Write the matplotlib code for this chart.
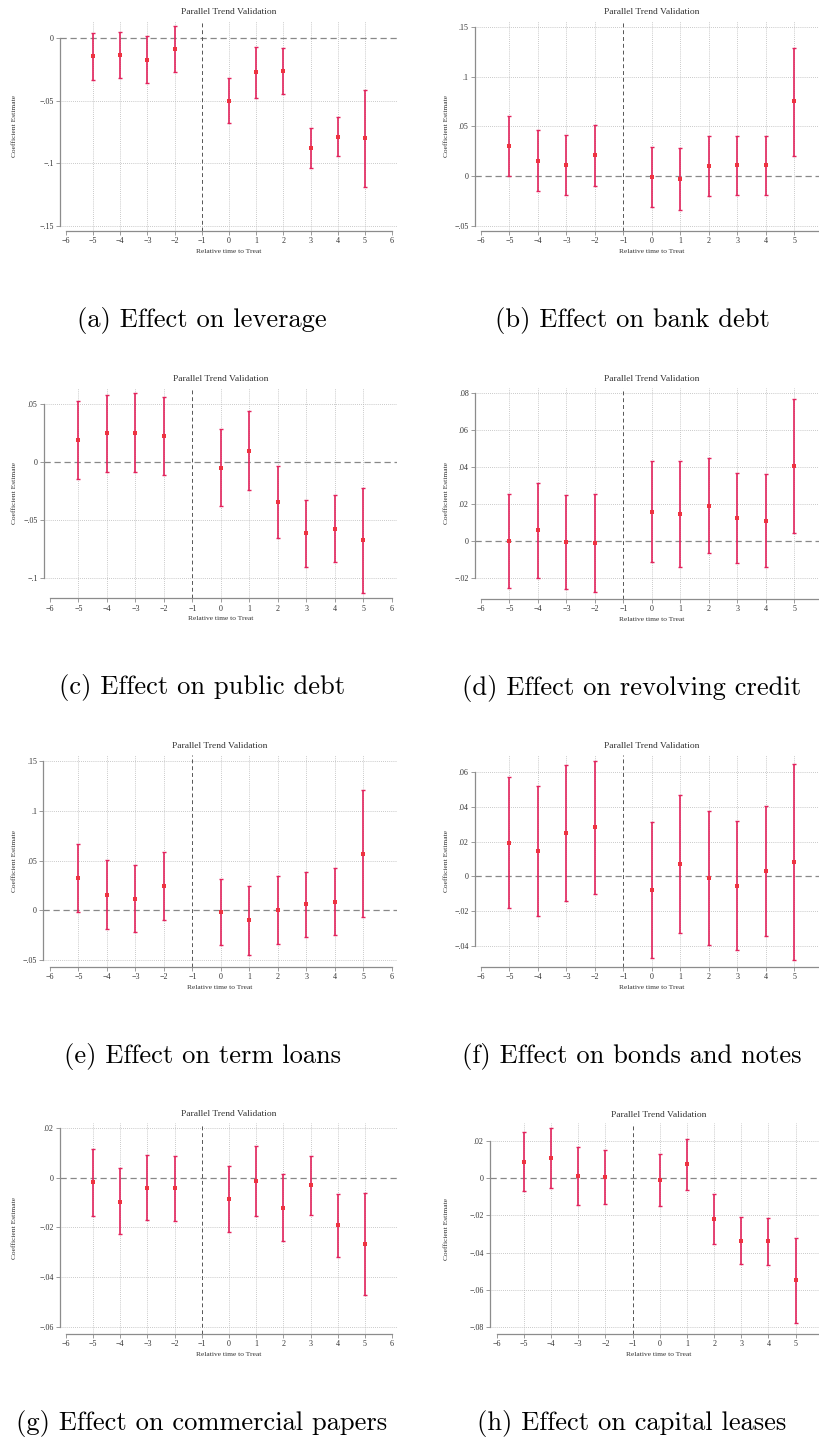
import matplotlib
matplotlib.use('Agg')
import matplotlib.pyplot as plt
from matplotlib.ticker import FuncFormatter
import numpy as np

W, H = 819, 1439

# relative time to treatment (period -1 is the omitted reference)
periods = [-5, -4, -3, -2, 0, 1, 2, 3, 4, 5]

leverage_coef = [-0.0147, -0.0133, -0.0173, -0.0088, -0.0500, -0.0272, -0.0261, -0.0879, -0.0786, -0.0800]
leverage_lo = [-0.0336, -0.0320, -0.0360, -0.0272, -0.0680, -0.0477, -0.0448, -0.1040, -0.0943, -0.1186]
leverage_hi = [0.0043, 0.0048, 0.0016, 0.0096, -0.0320, -0.0072, -0.0077, -0.0714, -0.0632, -0.0413]

bank_coef = [0.0298, 0.0157, 0.0110, 0.0211, -0.0010, -0.0030, 0.0104, 0.0110, 0.0110, 0.0750]
bank_lo = [0.0000, -0.0151, -0.0188, -0.0094, -0.0308, -0.0338, -0.0198, -0.0188, -0.0188, 0.0204]
bank_hi = [0.0603, 0.0466, 0.0412, 0.0509, 0.0291, 0.0281, 0.0405, 0.0405, 0.0405, 0.1286]

public_coef = [0.0193, 0.0250, 0.0253, 0.0227, -0.0049, 0.0101, -0.0345, -0.0612, -0.0572, -0.0672]
public_lo = [-0.0141, -0.0083, -0.0086, -0.0109, -0.0379, -0.0241, -0.0655, -0.0902, -0.0862, -0.1124]
public_hi = [0.0526, 0.0583, 0.0595, 0.0560, 0.0284, 0.0443, -0.0034, -0.0328, -0.0284, -0.0221]

revolving_coef = [0.0000, 0.0056, -0.0005, -0.0013, 0.0157, 0.0144, 0.0191, 0.0123, 0.0107, 0.0405]
revolving_lo = [-0.0255, -0.0202, -0.0262, -0.0280, -0.0117, -0.0144, -0.0067, -0.0119, -0.0144, 0.0040]
revolving_hi = [0.0253, 0.0312, 0.0247, 0.0253, 0.0433, 0.0433, 0.0450, 0.0370, 0.0361, 0.0767]

term_coef = [0.0322, 0.0157, 0.0117, 0.0241, -0.0013, -0.0100, 0.0000, 0.0060, 0.0084, 0.0566]
term_lo = [-0.0017, -0.0188, -0.0221, -0.0100, -0.0352, -0.0452, -0.0342, -0.0271, -0.0251, -0.0070]
term_hi = [0.0663, 0.0503, 0.0456, 0.0583, 0.0318, 0.0248, 0.0342, 0.0389, 0.0422, 0.1206]

bonds_coef = [0.0194, 0.0146, 0.0250, 0.0283, -0.0077, 0.0073, -0.0012, -0.0054, 0.0033, 0.0081]
bonds_lo = [-0.0183, -0.0227, -0.0140, -0.0100, -0.0469, -0.0325, -0.0394, -0.0427, -0.0344, -0.0485]
bonds_hi = [0.0573, 0.0519, 0.0640, 0.0663, 0.0313, 0.0469, 0.0375, 0.0321, 0.0408, 0.0648]

paper_coef = [-0.0019, -0.0096, -0.0040, -0.0043, -0.0087, -0.0013, -0.0122, -0.0031, -0.0191, -0.0266]
paper_lo = [-0.0152, -0.0228, -0.0171, -0.0175, -0.0219, -0.0155, -0.0256, -0.0151, -0.0319, -0.0471]
paper_hi = [0.0116, 0.0037, 0.0089, 0.0087, 0.0045, 0.0127, 0.0013, 0.0087, -0.0064, -0.0060]

lease_coef = [0.0088, 0.0109, 0.0011, 0.0005, -0.0013, 0.0073, -0.0220, -0.0336, -0.0339, -0.0548]
lease_lo = [-0.0071, -0.0052, -0.0145, -0.0141, -0.0150, -0.0066, -0.0352, -0.0463, -0.0468, -0.0775]
lease_hi = [0.0246, 0.0268, 0.0166, 0.0152, 0.0127, 0.0211, -0.0086, -0.0211, -0.0213, -0.0321]

x_ticks = list(range(-6, 7))

captions = ['(a) Effect on leverage', '(b) Effect on bank debt',
            '(c) Effect on public debt', '(d) Effect on revolving credit',
            '(e) Effect on term loans', '(f) Effect on bonds and notes',
            '(g) Effect on commercial papers', '(h) Effect on capital leases']

y_ticks = [
    [-0.15, -0.1, -0.05, 0],
    [-0.05, 0, 0.05, 0.1, 0.15],
    [-0.1, -0.05, 0, 0.05],
    [-0.02, 0, 0.02, 0.04, 0.06, 0.08],
    [-0.05, 0, 0.05, 0.1, 0.15],
    [-0.04, -0.02, 0, 0.02, 0.04, 0.06],
    [-0.06, -0.04, -0.02, 0, 0.02],
    [-0.08, -0.06, -0.04, -0.02, 0, 0.02],
]

series = [
    (leverage_coef, leverage_lo, leverage_hi),
    (bank_coef, bank_lo, bank_hi),
    (public_coef, public_lo, public_hi),
    (revolving_coef, revolving_lo, revolving_hi),
    (term_coef, term_lo, term_hi),
    (bonds_coef, bonds_lo, bonds_hi),
    (paper_coef, paper_lo, paper_hi),
    (lease_coef, lease_lo, lease_hi),
]

# plot-region boxes in pixels (left, top, right, bottom) and axis limits
boxes = [
    (60, 21, 398, 231), (475, 20.7, 828, 231),
    (44, 387.7, 397, 598.3), (475, 387.7, 828, 599),
    (43.3, 755, 397, 966.7), (475, 755, 828, 966.7),
    (60, 1122.7, 398, 1334), (490, 1123.3, 828, 1334),
]
xlims = [(-6.22, 6.22), (-6.21, 6.18), (-6.21, 6.18), (-6.21, 6.18),
         (-6.23, 6.18), (-6.21, 6.18), (-6.22, 6.22), (-6.25, 6.19)]
ylims = [(-0.154, 0.0136), (-0.055, 0.156), (-0.1172, 0.0643), (-0.0316, 0.083),
         (-0.0567, 0.156), (-0.0521, 0.070), (-0.0627, 0.022), (-0.0836, 0.0293)]

serif = ['Liberation Serif', 'DejaVu Serif']
txt = '#333333'
bar_col = '#E2235C'
pt_col = '#EE3340'


def stata_fmt(v, pos=None):
    if abs(v) < 1e-12:
        return '0'
    s = f'{abs(v):g}'.lstrip('0')
    return ('\u2212' if v < 0 else '') + s


fig = plt.figure(figsize=(W / 100, H / 100), dpi=100)

for i in range(8):
    l, t, r, b = boxes[i]
    ax = fig.add_axes([l / W, 1 - b / H, (r - l) / W, (b - t) / H])
    ax.set_xlim(*xlims[i])
    ax.set_ylim(*ylims[i])
    ax.patch.set_alpha(0)

    yt = y_ticks[i]
    for v in yt:
        if v != 0:
            ax.axhline(v, color='#b8b8b8', lw=0.6, ls=(0, (1, 1.5)), zorder=0)
    for v in periods:
        ax.axvline(v, color='#b8b8b8', lw=0.6, ls=(0, (1, 1.5)), zorder=0)
    ax.axhline(0, color='#888888', lw=0.9, ls=(0, (5, 3)), zorder=1)
    ax.axvline(-1, color='#555555', lw=0.7, ls=(0, (4, 3)), zorder=1)

    coef, lo, hi = series[i]
    coef = np.array(coef)
    err = [coef - np.array(lo), np.array(hi) - coef]
    ax.errorbar(periods, coef, yerr=err, fmt='none', ecolor=bar_col,
                elinewidth=1.2, capsize=1.6, capthick=1.0, zorder=3)
    ax.plot(periods, coef, 's', color=pt_col, ms=2.6, mew=0, zorder=4)

    for s in ['top', 'right']:
        ax.spines[s].set_visible(False)
    for s in ['left', 'bottom']:
        ax.spines[s].set_color('#8c8c8c')
        ax.spines[s].set_linewidth(0.9)
    ax.spines['bottom'].set_bounds(-6, 6)
    ax.spines['left'].set_bounds(min(yt), max(yt))

    # right-hand panels are clipped by the page edge, so the "6" label is not shown
    shown = x_ticks if i % 2 == 0 else x_ticks[:-1]
    ax.set_xticks(shown)
    ax.set_xticklabels([stata_fmt(v) for v in shown])
    ax.set_yticks(yt)
    ax.yaxis.set_major_formatter(FuncFormatter(stata_fmt))
    ax.tick_params(length=3, width=0.6, color='#8c8c8c', labelsize=5.8,
                   labelcolor=txt, pad=1.5)
    for lab in ax.get_xticklabels() + ax.get_yticklabels():
        lab.set_family(serif)

    cx = (l + r) / 2
    fig.text(cx / W, 1 - (t - 8.5) / H, 'Parallel Trend Validation',
             ha='center', va='center', fontsize=6.8, color=txt, family=serif)
    fig.text(cx / W, 1 - (b + 20.5) / H, 'Relative time to Treat',
             ha='center', va='center', fontsize=5.4, color=txt, family=serif)
    ylx = 15 if i % 2 == 0 else 446.7
    fig.text(ylx / W, 1 - ((t + b) / 2) / H, 'Coefficient Estimate',
             ha='center', va='center', rotation=90, fontsize=5.4,
             color=txt, family=serif)

    capx = 202 if i % 2 == 0 else 632
    fig.text(capx / W, 1 - (b + 96) / H, captions[i], ha='center',
             va='baseline', fontsize=19.1, family='cmr10', color='black')

fig.savefig('out.png', dpi=100)
